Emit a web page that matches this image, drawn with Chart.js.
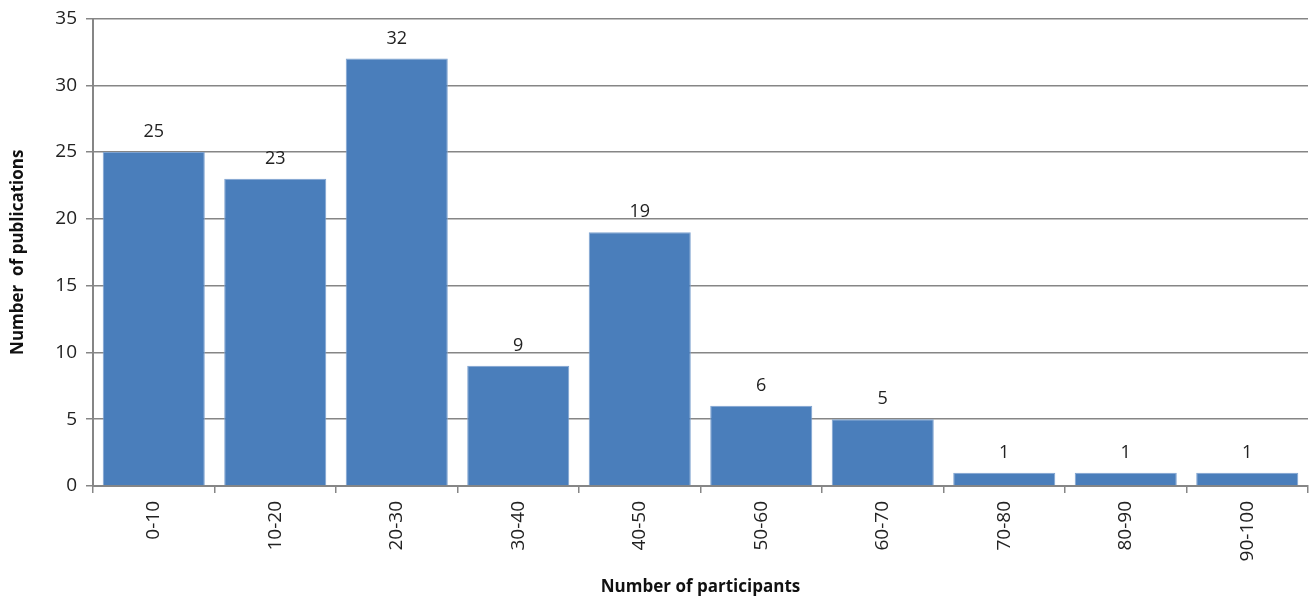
<!DOCTYPE html>
<html>
<head>
<meta charset="utf-8">
<script src="https://cdn.jsdelivr.net/npm/chart.js@4"></script>
<style>
  html, body { margin: 0; padding: 0; background: #fff; }
  #wrap { width: 1310px; height: 599px; }
</style>
</head>
<body>
<div id="wrap"><canvas id="barChart" width="1310" height="599"></canvas></div>
<script>
// 참여자 수 구간별 논문 수
const categories = ['0-10', '10-20', '20-30', '30-40', '40-50', '50-60', '60-70', '70-80', '80-90', '90-100'];
const publications = [25, 23, 32, 9, 19, 6, 5, 1, 1, 1];
const yTicks = [0, 5, 10, 15, 20, 25, 30, 35];

const FONT = '"Open Sans", "DejaVu Sans", sans-serif';

// 막대 위에 값 표시
const valueLabels = {
    id: 'valueLabels',
    afterDatasetsDraw(chart) {
        const ctx = chart.ctx;
        const meta = chart.getDatasetMeta(0);
        ctx.save();
        ctx.font = '18px ' + FONT;
        ctx.fillStyle = '#222';
        ctx.textAlign = 'center';
        ctx.textBaseline = 'alphabetic';
        meta.data.forEach((bar, i) => {
            ctx.fillText(String(chart.data.datasets[0].data[i]), bar.x, bar.y - 15);
        });
        ctx.restore();
    }
};

const ctx = document.getElementById('barChart').getContext('2d');
new Chart(ctx, {
    type: 'bar',
    data: {
        labels: categories,
        datasets: [{
            data: publications,
            backgroundColor: '#4A7EBB',
            borderColor: '#7FA3D0',
            borderWidth: 1,
            categoryPercentage: 1,
            barPercentage: 0.84
        }]
    },
    options: {
        responsive: false,
        animation: false,
        layout: { padding: { top: 16, right: 2, left: 0, bottom: 0 } },
        plugins: {
            legend: { display: false },
            tooltip: { enabled: false }
        },
        scales: {
            x: {
                afterFit(scale) { scale.height = 113; },
                grid: {
                    drawOnChartArea: false,
                    drawTicks: true,
                    tickLength: 7,
                    color: '#868686',
                    lineWidth: 1.5
                },
                border: { color: '#868686', width: 2 },
                ticks: {
                    minRotation: 90,
                    maxRotation: 90,
                    padding: 8,
                    color: '#222',
                    font: { family: FONT, size: 19 }
                },
                title: {
                    display: true,
                    text: 'Number of participants',
                    color: '#111',
                    font: { family: FONT, size: 17, weight: 'bold' },
                    padding: { top: 0, bottom: 2 }
                }
            },
            y: {
                min: 0,
                max: 35,
                afterFit(scale) { scale.width = 93; },
                afterBuildTicks(axis) {
                    axis.ticks = yTicks.map(v => ({ value: v }));
                },
                grid: {
                    color: '#868686',
                    lineWidth: 1.5,
                    tickLength: 7
                },
                border: { color: '#868686', width: 2 },
                ticks: {
                    padding: 9,
                    color: '#222',
                    font: { family: FONT, size: 19, lineHeight: 1 }
                },
                title: {
                    display: true,
                    text: 'Number  of publications',
                    color: '#111',
                    font: { family: FONT, size: 17, weight: 'bold' },
                    padding: { top: 8, bottom: 0 }
                }
            }
        }
    },
    plugins: [valueLabels]
});
</script>
</body>
</html>
